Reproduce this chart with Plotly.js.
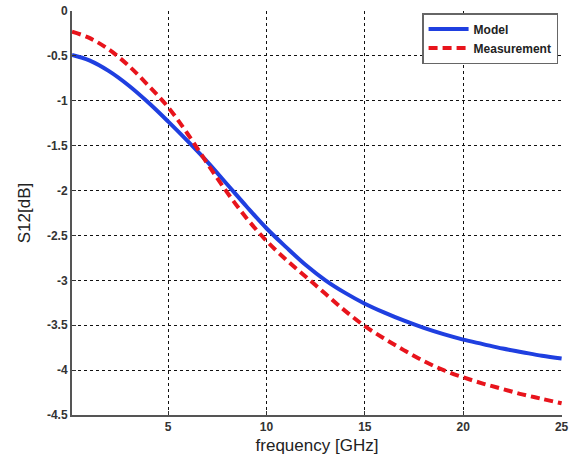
<!DOCTYPE html>
<html>
<head>
<meta charset="utf-8">
<script src="https://cdn.plot.ly/plotly-3.0.1.min.js"></script>
<style>html,body{margin:0;padding:0;background:#fff;}#chart{width:571px;height:466px;}</style>
</head>
<body>
<div id="chart"></div>
<script>
const freq = [0.12, 1, 2, 3, 4, 5, 6, 7, 8, 9, 10, 11, 12, 13, 14, 15, 16, 17, 18, 19, 20, 21, 22, 23, 24, 25];
const model = [-0.49, -0.55, -0.67, -0.83, -1.02, -1.23, -1.45, -1.68, -1.93, -2.18, -2.42, -2.63, -2.83, -3.0, -3.14, -3.26, -3.36, -3.45, -3.53, -3.6, -3.66, -3.71, -3.76, -3.8, -3.84, -3.87];
const measurement = [-0.23, -0.3, -0.43, -0.61, -0.83, -1.07, -1.37, -1.7, -2.02, -2.31, -2.56, -2.77, -2.96, -3.15, -3.34, -3.51, -3.65, -3.78, -3.9, -4.0, -4.08, -4.15, -4.21, -4.27, -4.32, -4.37];
const xTicks = [5, 10, 15, 20, 25];
const xTickText = ['5', '10', '15', '20', '25'];
const yTicks = [0, -0.5, -1, -1.5, -2, -2.5, -3, -3.5, -4, -4.5];
const yTickText = ['0', '-0.5', '-1', '-1.5', '-2', '-2.5', '-3', '-3.5', '-4', '-4.5'];

const traces = [
  {x: freq, y: model, name: 'Model', mode: 'lines', line: {color: '#1f3fe0', width: 4, shape: 'spline'}},
  {x: freq, y: measurement, name: 'Measurement', mode: 'lines', line: {color: '#e8141c', width: 4, dash: '9px,5px', shape: 'spline'}}
];
const axisCommon = {
  showgrid: true, gridcolor: '#111', gridwidth: 1, griddash: '3px,3px',
  zeroline: false, showline: true, linecolor: '#555', linewidth: 2,
  ticks: 'inside', ticklen: 4, tickcolor: '#333', ticklabeloverflow: 'allow',
  tickfont: {family: 'Liberation Sans, Arial', size: 12, color: '#333', weight: 'bold'}
};
const layout = {
  width: 571, height: 466,
  margin: {l: 72, r: 9, t: 11, b: 51},
  paper_bgcolor: '#fff', plot_bgcolor: '#fff',
  showlegend: true,
  legend: {x: 0.992, y: 0.995, xanchor: 'right', yanchor: 'top', bgcolor: '#fff',
    bordercolor: '#666', borderwidth: 1.5,
    font: {family: 'Liberation Sans, Arial', size: 12, color: '#222', weight: 'bold'},
    tracegroupgap: 0, itemwidth: 40},
  xaxis: Object.assign({}, axisCommon, {range: [0.12, 25.02], tickvals: xTicks, ticktext: xTickText,
    title: {text: 'frequency [GHz]', font: {family: 'Liberation Sans, Arial', size: 17, color: '#222'}, standoff: 6}}),
  yaxis: Object.assign({}, axisCommon, {range: [-4.5, 0], tickvals: yTicks, ticktext: yTickText,
    title: {text: 'S12[dB]', font: {family: 'Liberation Sans, Arial', size: 17, color: '#222'}, standoff: 12}})
};
Plotly.newPlot('chart', traces, layout, {displayModeBar: false, staticPlot: true});
</script>
</body>
</html>
